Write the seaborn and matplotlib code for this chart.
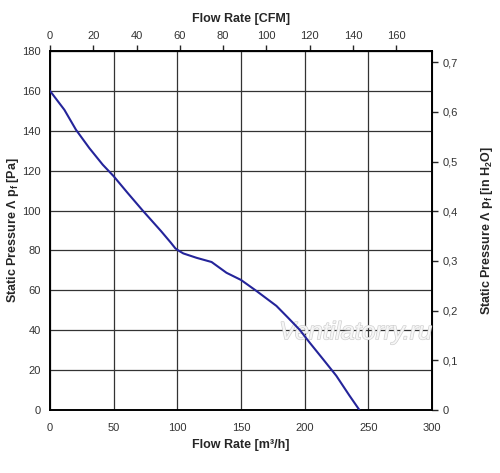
import pandas as pd
import numpy as np
import matplotlib.pyplot as plt
import matplotlib.patheffects as pe
import seaborn as sns
from matplotlib.ticker import FuncFormatter

# Fan curve: flow [m3/h] vs static pressure [Pa]
flow_m3h = [0, 11.3, 20.4, 30.9, 41.4, 50, 61, 72.8, 87.2, 95, 98.5, 101, 104.7,
            115.1, 126.9, 138.6, 150, 162.1, 177.8, 186.9, 196.1, 203.9, 214.4,
            224.8, 235.2, 243]
pressure_pa = [160, 150.5, 140.5, 131.3, 123, 117.2, 108.8, 100, 89.7, 83.8, 81, 79.9, 78.5,
               76.3, 74.2, 68.8, 65.2, 59.7, 52.2, 46.3, 40.2, 33.8, 25.5,
               17.2, 7.2, 0]

bottom_ticks = [0, 50, 100, 150, 200, 250, 300]
left_ticks = [0, 20, 40, 60, 80, 100, 120, 140, 160, 180]
top_ticks = [0, 20, 40, 60, 80, 100, 120, 140, 160]
right_ticks = [0, 0.1, 0.2, 0.3, 0.4, 0.5, 0.6, 0.7]

M3H_PER_CFM = 1.699
PA_PER_INH2O = 249.089

sns.set_style('white')
plt.rcParams['font.family'] = ['Liberation Sans', 'DejaVu Sans']
plt.rcParams['font.size'] = 8

df = pd.DataFrame({'flow': flow_m3h, 'pressure': pressure_pa})

fig = plt.figure(figsize=(5, 4.73), dpi=100)
ax = fig.add_axes([0.1, 0.1332, 0.764, 0.759])

sns.lineplot(data=df, x='flow', y='pressure', ax=ax, color='#24249a',
             linewidth=1.5, sort=False, zorder=5)

ax.set_xlim(0, 300)
ax.set_ylim(0, 180)
ax.set_xticks(bottom_ticks)
ax.set_yticks(left_ticks)
ax.grid(True, color='#333333', linewidth=0.9)
for s in ax.spines.values():
    s.set_color('black')
    s.set_linewidth(1.4)
ax.tick_params(axis='x', direction='inout', length=5, width=1, colors='black',
               labelcolor='#333333', labelsize=8, pad=7)
ax.tick_params(axis='y', direction='inout', length=5, width=1, colors='black',
               labelcolor='#333333', labelsize=8, pad=4)
ax.set_xlabel('Flow Rate [m³/h]', fontweight='bold', fontsize=9, labelpad=4)
ax.set_ylabel('Static Pressure Λ p$_\\mathregular{f}$ [Pa]', fontweight='bold', fontsize=9)
ax.yaxis.set_label_coords(-0.075, 0.5)

top = ax.secondary_xaxis('top', functions=(lambda v: v / M3H_PER_CFM,
                                            lambda v: v * M3H_PER_CFM))
top.set_xticks(top_ticks)
top.tick_params(direction='out', length=4, width=1, labelcolor='#333333', labelsize=8)
top.set_xlabel('Flow Rate [CFM]', fontweight='bold', fontsize=9, labelpad=6)

right = ax.secondary_yaxis('right', functions=(lambda v: v / PA_PER_INH2O,
                                                lambda v: v * PA_PER_INH2O))
right.set_yticks(right_ticks)
right.yaxis.set_major_formatter(FuncFormatter(
    lambda v, p: '0' if abs(v) < 1e-9 else f'{v:.1f}'.replace('.', ',')))
right.tick_params(direction='out', length=4, width=1, labelcolor='#333333', labelsize=8)
right.set_ylabel('Static Pressure Λ p$_\\mathregular{f}$ [in H$_\\mathregular{2}$O]',
                 fontweight='bold', fontsize=9, labelpad=15)

ax.text(240, 39, 'Ventilatorry.ru', fontsize=18, style='italic', color='#f6f6f6',
        ha='center', va='center', zorder=4,
        path_effects=[pe.withStroke(linewidth=1.0, foreground='#d0d0d0')])

fig.savefig('out.png', dpi=100)
